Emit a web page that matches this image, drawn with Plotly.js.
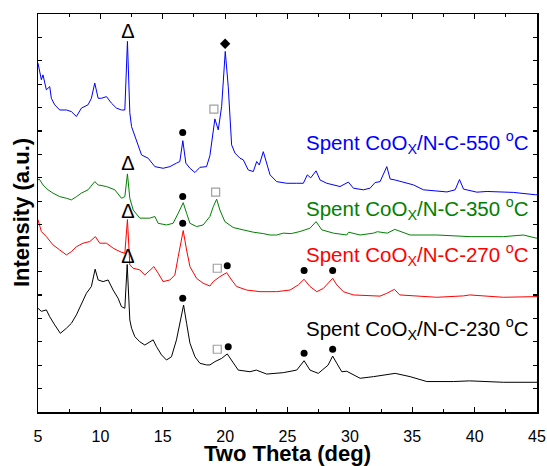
<!DOCTYPE html>
<html>
<head>
<meta charset="utf-8">
<script src="https://cdn.plot.ly/plotly-3.0.1.min.js"></script>
<style>html,body{margin:0;padding:0;background:#fff;}#chart{width:547px;height:466px;}</style>
</head>
<body>
<div id="chart"></div>
<script>
// ---- data (two theta in deg, intensity in arbitrary stacked units) ----
const blueX = [5.0,5.27,5.4,5.67,5.94,6.07,6.34,6.74,7.28,7.68,8.08,8.48,9.01,9.28,9.55,9.82,10.09,10.49,10.89,11.29,11.69,11.96,12.17,12.36,12.5,12.76,13.03,13.3,13.83,14.37,15.03,15.57,16.1,16.37,16.61,16.85,17.18,17.58,17.98,18.51,18.78,19.0,19.18,19.45,19.72,20.01,20.25,20.52,20.79,21.19,21.46,21.85,22.26,22.53,22.74,23.06,23.33,23.6,24.13,24.94,25.74,26.27,26.59,26.86,27.29,27.61,28.15,28.68,29.21,29.88,30.28,31.08,31.62,32.02,32.42,32.96,33.23,33.63,34.57,35.1,35.9,36.44,37.78,38.44,38.79,39.11,40.18,41.0,42.32,43.1,44.86,45.0];
const blueY = [14.90,14.19,14.40,13.76,13.90,13.40,13.12,12.90,12.90,12.83,12.62,12.98,13.12,13.40,14.05,13.40,13.40,13.47,13.19,12.98,12.90,12.90,15.83,12.78,12.19,11.77,11.34,10.98,10.84,10.48,10.41,10.48,10.63,10.70,11.59,10.63,10.41,10.23,10.45,10.48,10.95,11.77,12.52,12.05,13.05,15.40,13.90,11.41,11.06,10.84,10.77,10.34,10.27,10.70,10.55,11.12,10.63,10.13,9.84,9.77,9.77,9.77,10.13,10.00,10.30,9.91,9.77,9.70,9.63,9.82,9.56,9.49,9.56,9.80,9.84,10.48,9.95,9.91,9.79,9.70,9.49,9.46,9.40,9.49,9.93,9.52,9.39,9.42,9.38,9.38,9.28,9.28];

const greenX = [5.0,5.1,5.4,5.8,6.2,6.74,7.28,7.68,8.08,8.48,9.01,9.55,9.82,10.49,11.16,11.69,11.96,12.17,12.36,12.63,13.16,13.96,14.37,14.63,15.3,15.83,16.24,16.64,16.91,17.18,17.71,18.24,18.78,19.05,19.32,19.58,19.98,20.65,21.45,22.26,23.06,23.6,24.13,24.66,25.3,26.0,26.8,27.29,27.75,28.68,29.75,29.9,30.82,31.89,32.2,33.0,33.6,34.83,36.97,39.64,42.3,43.9,45.0];
const greenY = [9.91,9.95,9.70,9.49,9.35,9.20,9.13,9.06,9.20,9.35,9.49,9.84,9.70,9.63,9.49,9.13,9.20,10.17,9.13,8.63,8.28,8.28,8.35,8.06,7.99,8.06,8.49,8.94,8.49,8.06,7.92,7.99,8.35,8.77,9.09,8.63,8.13,7.88,7.78,7.68,7.62,7.56,7.56,7.64,7.62,7.71,7.85,8.13,7.78,7.64,7.56,7.68,7.56,7.64,7.70,7.64,7.80,7.56,7.56,7.49,7.49,7.56,7.42];

const redX = [5.0,5.27,5.67,6.2,6.74,7.28,7.68,8.08,8.61,9.15,9.6,9.95,10.49,11.02,11.56,11.96,12.17,12.36,12.63,13.16,13.56,13.96,14.29,14.63,15.03,15.57,15.97,16.24,16.64,16.91,17.18,17.71,18.24,18.78,19.05,19.58,20.12,20.52,20.92,21.72,22.79,24.13,25.2,25.87,26.33,26.8,27.35,27.88,28.25,28.62,28.95,29.48,30.28,31.36,32.42,32.96,33.57,34.0,35.63,36.97,39.11,39.6,42.3,45.0];
const redY = [8.21,7.71,7.49,7.14,6.92,6.71,6.85,7.06,7.21,7.28,7.49,7.21,7.21,7.00,6.85,6.78,8.22,6.28,6.14,6.07,5.85,6.07,6.21,5.93,5.57,5.64,5.85,6.64,7.75,6.92,6.21,5.71,5.50,5.38,5.57,5.78,5.95,5.64,5.36,5.21,5.14,5.14,5.21,5.43,5.67,5.36,5.14,5.28,5.50,5.71,5.43,5.14,5.00,4.96,4.95,5.07,5.24,5.00,4.93,4.90,4.96,5.00,4.90,4.93];

const blackX = [5.0,5.27,5.67,5.94,6.34,6.79,7.28,7.68,8.08,8.48,8.88,9.28,9.58,9.82,10.22,10.62,11.02,11.42,11.69,11.96,12.15,12.36,12.5,12.76,13.16,13.56,13.96,14.23,14.5,14.9,15.3,15.7,16.1,16.37,16.67,16.91,17.18,17.58,17.98,18.51,18.78,19.18,19.72,20.17,20.65,21.05,21.99,22.5,23.33,24.66,25.74,26.33,26.8,27.47,28.25,28.62,28.95,29.35,29.75,30.28,30.82,31.89,32.7,33.63,34.83,35.3,36.17,38.3,39.6,42.3,45.0];
const blackY = [4.43,4.30,4.36,4.07,3.72,3.36,3.58,3.79,4.15,4.65,5.07,5.36,6.10,5.64,5.57,5.64,5.21,4.86,4.50,4.43,6.30,3.93,3.58,3.22,3.00,2.86,3.00,3.08,2.79,2.44,2.22,2.36,3.08,3.79,4.57,3.79,2.94,2.36,2.08,2.01,2.01,2.15,2.29,2.48,2.08,1.79,1.72,1.79,1.62,1.68,1.79,2.19,1.79,1.65,2.00,2.39,2.08,1.72,1.74,1.58,1.44,1.51,1.58,1.65,1.51,1.44,1.30,1.30,1.33,1.27,1.27];

// phase markers
const triX = [12.2,12.2,12.2,12.2];
const triY = [16.2,10.56,8.5,6.58];
const circX = [16.6,16.6,16.6,16.6,20.17,26.33,28.62,20.25,26.33,28.62];
const circY = [11.94,9.2,8.06,4.86,6.25,6.04,6.04,2.79,2.51,2.68];
const sqX = [19.1,19.24,19.37,19.37];
const sqY = [12.94,9.39,6.14,2.68];
const diaX = [20.0];
const diaY = [15.73];

// series labels
const seriesNames = ["Spent CoO<sub>X</sub>/N-C-550 <sup>o</sup>C","Spent CoO<sub>X</sub>/N-C-350 <sup>o</sup>C","Spent CoO<sub>X</sub>/N-C-270 <sup>o</sup>C","Spent CoO<sub>X</sub>/N-C-230 <sup>o</sup>C"];
const seriesColors = ["#0000FF","#008000","#FF0000","#000000"];
const labelY = [11.5,8.68,6.72,3.55];
const xTitle = "Two Theta (deg)";
const yTitle = "Intensity (a.u.)";

const FONT = 'Arial, "Liberation Sans", sans-serif';

const series = [[blueX,blueY],[greenX,greenY],[redX,redY],[blackX,blackY]];
const traces = series.map((s,i)=>({
  x:s[0], y:s[1], type:'scatter', mode:'lines',
  line:{color:seriesColors[i], width:1}, hoverinfo:'skip'
}));
traces.push({x:triX,y:triY,type:'scatter',mode:'text',text:triX.map(()=> 'Δ'),
  textfont:{family:FONT,size:20,color:'#000'},textposition:'middle center',hoverinfo:'skip'});
traces.push({x:circX,y:circY,type:'scatter',mode:'markers',
  marker:{symbol:'circle',size:7,color:'#000'},hoverinfo:'skip'});
traces.push({x:sqX,y:sqY,type:'scatter',mode:'markers',
  marker:{symbol:'square',size:8,color:'#fff',line:{color:'#a0a0a0',width:1.2}},hoverinfo:'skip'});
traces.push({x:diaX,y:diaY,type:'scatter',mode:'markers',
  marker:{symbol:'diamond',size:8,color:'#000'},hoverinfo:'skip'});

const annotations = seriesNames.map((t,i)=>({
  x:44.5, y:labelY[i], xref:'x', yref:'y', xanchor:'right', yanchor:'middle',
  text:t, showarrow:false, font:{family:FONT,size:20.5,color:seriesColors[i]}
}));
annotations.push({x:0.5, y:-0.105, xref:'paper', yref:'paper', xanchor:'center', yanchor:'middle',
  text:'<b>'+xTitle+'</b>', showarrow:false, font:{family:FONT,size:22,color:'#000'}});
annotations.push({x:-0.034, y:0.5, xref:'paper', yref:'paper', xanchor:'center', yanchor:'middle',
  textangle:-90, text:'<b>'+yTitle+'</b>', showarrow:false, font:{family:FONT,size:22,color:'#000'}});

const layout = {
  width:547, height:466,
  margin:{l:38, r:10, t:14, b:54},
  paper_bgcolor:'#fff', plot_bgcolor:'#fff',
  showlegend:false,
  font:{family:FONT, color:'#000'},
  xaxis:{range:[5,45], dtick:5, tick0:5, ticks:'inside', ticklen:5, tickwidth:1.2, tickcolor:'#000',
    showline:true, linecolor:'#000', linewidth:1.5, mirror:'ticks', showgrid:false, zeroline:false,
    ticklabelstandoff:9,
    tickfont:{family:FONT,size:16,color:'#000'},
    minor:{dtick:2.5, ticks:'inside', ticklen:3, tickcolor:'#000', tickwidth:1, showgrid:false}},
  yaxis:{range:[0,17], dtick:1, tick0:0, ticks:'inside', ticklen:4, tickwidth:1.2, tickcolor:'#000',
    showline:true, linecolor:'#000', linewidth:1.5, mirror:'ticks', showgrid:false, zeroline:false,
    showticklabels:false},
  annotations:annotations
};
Plotly.newPlot('chart', traces, layout, {staticPlot:true, displayModeBar:false});
</script>
</body>
</html>
